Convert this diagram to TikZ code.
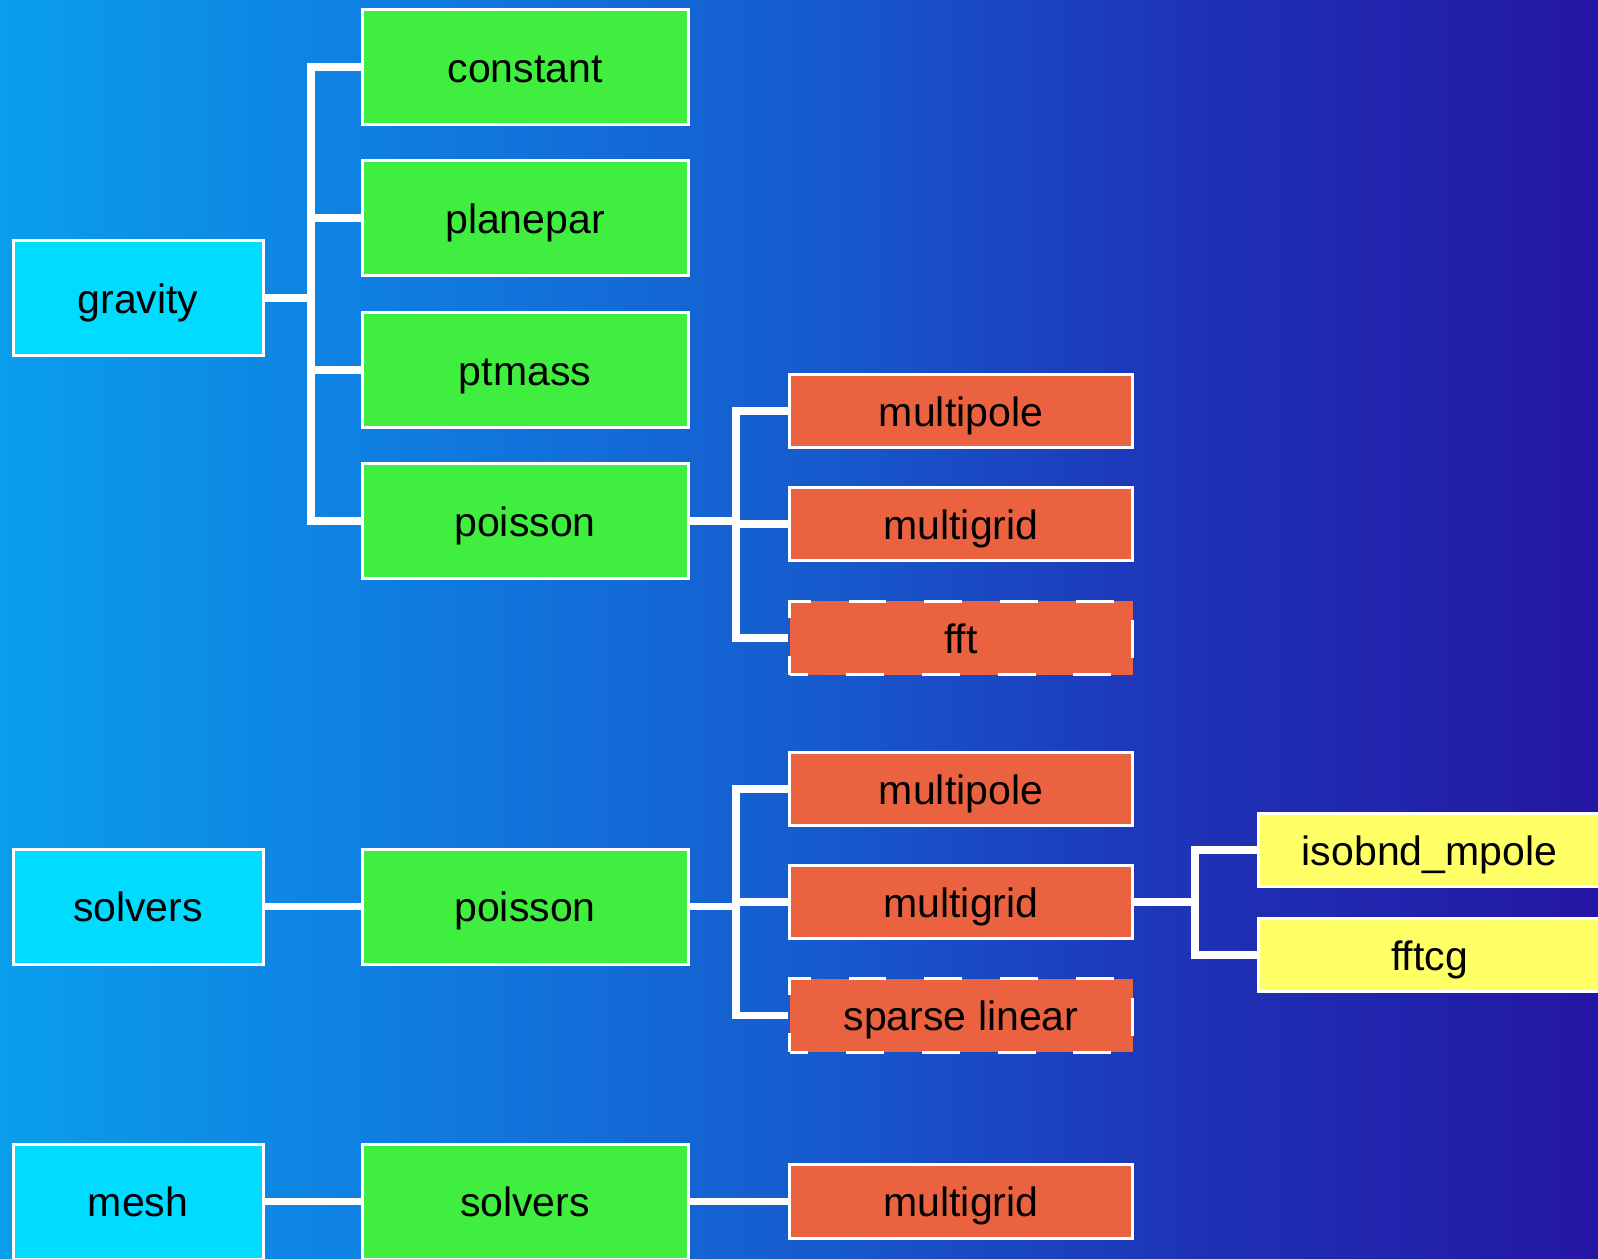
\documentclass[tikz,border=0pt]{standalone}
\usepackage{fontspec}
\setmainfont{Liberation Sans}
\definecolor{bgA}{RGB}{10,158,236}
\definecolor{bgB}{RGB}{15,125,224}
\definecolor{bgC}{RGB}{22,92,207}
\definecolor{bgD}{RGB}{30,50,182}
\definecolor{bgE}{RGB}{36,22,162}
\definecolor{cyanbox}{RGB}{0,220,255}
\definecolor{greenbox}{RGB}{64,238,64}
\definecolor{redbox}{RGB}{234,98,64}
\definecolor{yellowbox}{RGB}{255,255,102}
\pgfdeclarehorizontalshading{bgshade}{100bp}{color(0bp)=(bgA); color(25bp)=(bgA); color(37.5bp)=(bgB); color(50bp)=(bgC); color(62.5bp)=(bgD); color(75bp)=(bgE); color(100bp)=(bgE)}
\tikzset{
  box/.style={draw=white, line width=1.5pt, inner sep=0pt, text=black,
    font=\fontsize{20.5}{24}\selectfont, text height=15pt, text depth=0pt},
  topbox/.style={box, fill=cyanbox, minimum width=125pt, minimum height=57.5pt},
  midbox/.style={box, fill=greenbox, minimum width=163pt, minimum height=57.5pt},
  leafbox/.style={box, fill=redbox, minimum width=171.5pt, minimum height=36.75pt},
  subbox/.style={box, fill=yellowbox, minimum width=171.5pt, minimum height=36.75pt},
  optbox/.style={dash pattern=on 18.93pt off 18.93pt, dash phase=9.47pt},
  link/.style={draw=white, line width=3.6pt},
}
\begin{document}
\begin{tikzpicture}[x=0.5pt, y=-0.5pt]
\useasboundingbox (0,0) rectangle (1598,1258);
\clip (0,0) rectangle (1598,1258);
\fill[shading=bgshade, shading angle=0] (0,0) rectangle (1598,1258);

% group 1
\node[topbox] (gravity) at (138,298) {gravity};
\node[midbox] (constant) at (525,67) {constant};
\node[midbox] (planepar) at (525,218) {planepar};
\node[midbox] (ptmass) at (525,370) {ptmass};
\node[midbox] (poissonA) at (525,521) {poisson};
\node[leafbox] (multipoleA) at (961,411) {multipole};
\node[leafbox] (multigridA) at (961,524) {multigrid};
\node[leafbox, optbox] (fft) at (961,638) {fft};

% group 2
\node[topbox] (solversA) at (138,906.5) {solvers};
\node[midbox] (poissonB) at (525,906.5) {poisson};
\node[leafbox] (multipoleB) at (961,789) {multipole};
\node[leafbox] (multigridB) at (961,902) {multigrid};
\node[leafbox, optbox] (sparse) at (961,1015.5) {sparse linear};
\node[subbox] (isobnd) at (1429.5,850) {isobnd\_mpole};
\node[subbox] (fftcg) at (1429.5,955) {fftcg};

% group 3
\node[topbox] (mesh) at (138,1201.5) {mesh};
\node[midbox] (solversB) at (525,1201.5) {solvers};
\node[leafbox] (multigridC) at (961,1201.5) {multigrid};

% connectors
\coordinate (busA) at (311,298);
\coordinate (busB) at (736,521);
\coordinate (busC) at (1195,902);
\coordinate (busD) at (736,906.5);
\foreach \c in {constant,planepar,ptmass,poissonA}
  \draw[link] (gravity.east) -- (busA) |- (\c.west);
\foreach \c in {multipoleA,multigridA,fft}
  \draw[link] (poissonA.east) -- (busB) |- (\c.west);
\foreach \c in {multipoleB,multigridB,sparse}
  \draw[link] (poissonB.east) -- (busD) |- (\c.west);
\foreach \c in {isobnd,fftcg}
  \draw[link] (multigridB.east) -- (busC) |- (\c.west);
\draw[link] (solversA.east) -- (poissonB.west);
\draw[link] (mesh.east) -- (solversB.west);
\draw[link] (solversB.east) -- (multigridC.west);
\end{tikzpicture}
\end{document}
